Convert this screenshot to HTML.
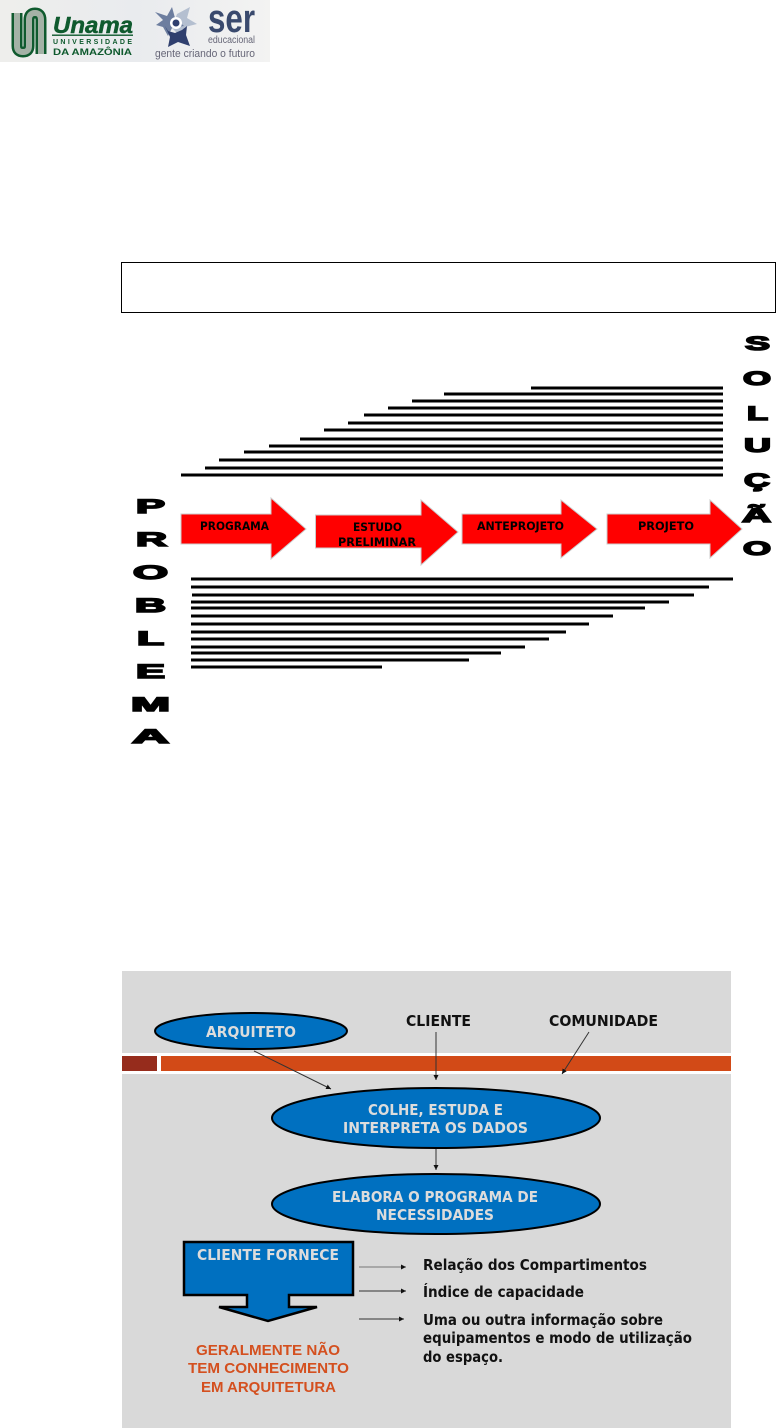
<!DOCTYPE html>
<html lang="pt"><head><meta charset="utf-8"><title>Programa de necessidades</title>
<style>html,body{margin:0;padding:0;background:#fff}svg{display:block}
text{font-family:"Liberation Sans",sans-serif}
.b{font-weight:bold}
.a{font-family:"DejaVu Sans",sans-serif;font-weight:bold;font-size:11.5px;fill:#000}
.w{font-family:"DejaVu Sans",sans-serif;font-weight:bold;font-size:15px;fill:#dcdcdc}
.k{font-family:"DejaVu Sans",sans-serif;font-weight:bold;font-size:15px;fill:#111}
.o{font-weight:bold;font-size:15px;fill:#d4501f}
.L{font-weight:bold;font-size:19.500px;fill:#000;stroke:#000;stroke-width:1.500}
</style></head><body>
<svg width="776" height="1428" viewBox="0 0 776 1428" xmlns="http://www.w3.org/2000/svg">
<defs>
<linearGradient id="g" x1="0" x2="1" y1="0" y2="0"><stop offset="0" stop-color="#eeeeec"/><stop offset=".5" stop-color="#e9ebee"/><stop offset="1" stop-color="#f3f3f2"/></linearGradient>
<marker id="m" markerWidth="6" markerHeight="6" refX="5" refY="2.5" orient="auto" markerUnits="userSpaceOnUse"><path d="M0 0L5 2.5L0 5Z" fill="#111"/></marker>
</defs>
<rect width="776" height="1428" fill="#fff"/>
<!-- logo -->
<rect x="0" y="0" width="270" height="62" fill="url(#g)"/>
<g fill="none">
<path d="M17 13V46Q17 52 23 52Q29 52 29 46V20Q29 13 35 13Q41 13 41 20V54" stroke="#0f5a2e" stroke-width="11"/>
<path d="M17 13V46Q17 52 23 52Q29 52 29 46V20Q29 13 35 13Q41 13 41 20V54" stroke="#a4b2a6" stroke-width="6"/>
</g>
<text x="53" y="33" class="b" font-size="23" font-style="italic" fill="#0f5a2e" stroke="#0f5a2e" stroke-width=".5" textLength="80" lengthAdjust="spacingAndGlyphs">Unama</text>
<rect x="52" y="34.500" width="81" height="1.400" fill="#0f5a2e"/>
<text x="53" y="44" class="b" font-size="7" fill="#0f5a2e" textLength="79" lengthAdjust="spacing">UNIVERSIDADE</text>
<text x="53" y="55" class="b" font-size="9.500" fill="#0f5a2e" textLength="79" lengthAdjust="spacingAndGlyphs">DA AMAZÔNIA</text>
<path d="M177 14L190 7L187 18L197 24L185 27L180 36L172 28Z" fill="#b4bfd0"/>
<path d="M155 12L167 16L172 7L175 18L184 26L172 28L168 36L163 27L156 25L163 20Z" fill="#6d7e9f"/>
<path d="M165 26L168 31L175 33L182 30L187 26L186 35L190 46L178 42L168 47L170 37Z" fill="#2f3f6e"/>
<circle cx="176" cy="23" r="6" fill="#fff"/>
<circle cx="176" cy="23" r="3.500" fill="#2f3f6e"/>
<text x="208" y="32" class="b" font-size="40" fill="#3a4a6e" textLength="47" lengthAdjust="spacingAndGlyphs">ser</text>
<text x="208" y="43" font-size="10" fill="#667" textLength="47" lengthAdjust="spacingAndGlyphs">educacional</text>
<text x="155" y="57" font-size="11" fill="#667" textLength="100" lengthAdjust="spacingAndGlyphs">gente criando o futuro</text>
<!-- box -->
<rect x="121.500" y="262.500" width="654" height="50" fill="#fff" stroke="#000" stroke-width="1"/>
<!-- upper lines -->
<g stroke="#000" stroke-width="3">
<path d="M531 388H723M444 394H723M412 401H723M388 408H723M364 415H723M348 423H723M324 430H723M300 439H723M269 446H723M244 452H723M219 460H723M205 468H723M181 475H723"/>
<path d="M191 579H733M191 587H709M192 595H694M191 602H669M191 608H645M191 616H613M191 624H589M191 632H566M191 639H549M191 647H525M191 653H501M191 660H469M191 667H382"/>
</g>
<!-- red arrows -->
<g fill="#f00" stroke="#ccc" stroke-width="1">
<path d="M181 514H271V498L306 529L271 559V544H181Z"/>
<path d="M315.500 515H421V500L458 532L421 565V548H315.500Z"/>
<path d="M462 514H561V500L597 529L561 558V544H462Z"/>
<path d="M607 514H710V500L742 529L710 558V544H607Z"/>
</g>
<text x="200" y="530" class="a" textLength="69" lengthAdjust="spacingAndGlyphs">PROGRAMA</text>
<text x="353" y="531" class="a" textLength="49" lengthAdjust="spacingAndGlyphs">ESTUDO</text>
<text x="338" y="546" class="a" textLength="78" lengthAdjust="spacingAndGlyphs">PRELIMINAR</text>
<text x="477" y="530" class="a" textLength="87" lengthAdjust="spacingAndGlyphs">ANTEPROJETO</text>
<text x="638" y="530" class="a" textLength="56" lengthAdjust="spacingAndGlyphs">PROJETO</text>
<!-- PROBLEMA -->
<text x="136" y="513" class="L" textLength="29" lengthAdjust="spacingAndGlyphs">P</text>
<text x="136" y="546" class="L" textLength="31" lengthAdjust="spacingAndGlyphs">R</text>
<text x="133" y="579" class="L" textLength="35" lengthAdjust="spacingAndGlyphs">O</text>
<text x="135" y="612" class="L" textLength="31" lengthAdjust="spacingAndGlyphs">B</text>
<text x="137" y="645" class="L" textLength="27" lengthAdjust="spacingAndGlyphs">L</text>
<text x="136" y="678" class="L" textLength="29" lengthAdjust="spacingAndGlyphs">E</text>
<text x="131" y="711" class="L" textLength="39" lengthAdjust="spacingAndGlyphs">M</text>
<text x="132" y="743" class="L" textLength="37" lengthAdjust="spacingAndGlyphs">A</text>
<!-- SOLUÇÃO -->
<text x="745" y="350" class="L" textLength="25" lengthAdjust="spacingAndGlyphs">S</text>
<text x="743" y="385" class="L" textLength="28" lengthAdjust="spacingAndGlyphs">O</text>
<text x="747" y="420" class="L" textLength="21" lengthAdjust="spacingAndGlyphs">L</text>
<text x="744" y="452" class="L" textLength="27" lengthAdjust="spacingAndGlyphs">U</text>
<text x="744" y="487" class="L" textLength="26" lengthAdjust="spacingAndGlyphs">Ç</text>
<text x="742" y="522" class="L" textLength="29" lengthAdjust="spacingAndGlyphs">Ã</text>
<text x="743" y="555" class="L" textLength="28" lengthAdjust="spacingAndGlyphs">O</text>
<!-- panel -->
<rect x="122" y="971" width="609" height="457" fill="#d9d9d9"/>
<rect x="122" y="1053" width="609" height="21" fill="#fff"/>
<rect x="122" y="1056" width="35" height="15" fill="#962c1c"/>
<rect x="161" y="1056" width="570" height="15" fill="#d24a17"/>
<g stroke="#333" stroke-width="1" fill="none">
<path d="M254 1051L331 1089" marker-end="url(#m)"/>
<path d="M436 1032V1080" marker-end="url(#m)"/>
<path d="M589 1032L562 1074" marker-end="url(#m)"/>
<path d="M436 1148V1170" marker-end="url(#m)"/>
<path d="M359 1267H406" stroke="#777" marker-end="url(#m)"/>
<path d="M359 1291H406" marker-end="url(#m)"/>
<path d="M359 1319H404" marker-end="url(#m)"/>
</g>
<g fill="#0070c0" stroke="#000" stroke-width="2">
<ellipse cx="251" cy="1031" rx="96" ry="18"/>
<ellipse cx="436" cy="1118" rx="164" ry="30"/>
<ellipse cx="436" cy="1204" rx="164" ry="30"/>
<path d="M184 1242H353V1295H289V1307H317L268 1321L219 1307H247V1295H184Z" stroke-width="2.500"/>
</g>
<text x="206" y="1037" class="w" textLength="90" lengthAdjust="spacingAndGlyphs">ARQUITETO</text>
<text x="406" y="1026" class="k" textLength="65" lengthAdjust="spacingAndGlyphs">CLIENTE</text>
<text x="549" y="1026" class="k" textLength="109" lengthAdjust="spacingAndGlyphs">COMUNIDADE</text>
<text x="368" y="1115" class="w" textLength="135" lengthAdjust="spacingAndGlyphs">COLHE, ESTUDA E</text>
<text x="343" y="1133" class="w" textLength="185" lengthAdjust="spacingAndGlyphs">INTERPRETA OS DADOS</text>
<text x="332" y="1202" class="w" textLength="206" lengthAdjust="spacingAndGlyphs">ELABORA O PROGRAMA DE</text>
<text x="376" y="1220" class="w" textLength="118" lengthAdjust="spacingAndGlyphs">NECESSIDADES</text>
<text x="197" y="1260" class="w" textLength="142" lengthAdjust="spacingAndGlyphs">CLIENTE FORNECE</text>
<text x="423" y="1270" class="k" textLength="224" lengthAdjust="spacingAndGlyphs">Relação dos Compartimentos</text>
<text x="423" y="1297" class="k" textLength="161" lengthAdjust="spacingAndGlyphs">Índice de capacidade</text>
<text x="423" y="1325" class="k" textLength="240" lengthAdjust="spacingAndGlyphs">Uma ou outra informação sobre</text>
<text x="423" y="1343" class="k" textLength="269" lengthAdjust="spacingAndGlyphs">equipamentos e modo de utilização</text>
<text x="423" y="1362" class="k" textLength="80" lengthAdjust="spacingAndGlyphs">do espaço.</text>
<text x="196" y="1355" class="o" textLength="144" lengthAdjust="spacingAndGlyphs">GERALMENTE NÃO</text>
<text x="188" y="1373" class="o" textLength="161" lengthAdjust="spacingAndGlyphs">TEM CONHECIMENTO</text>
<text x="201" y="1392" class="o" textLength="135" lengthAdjust="spacingAndGlyphs">EM ARQUITETURA</text>
</svg>
</body></html>
